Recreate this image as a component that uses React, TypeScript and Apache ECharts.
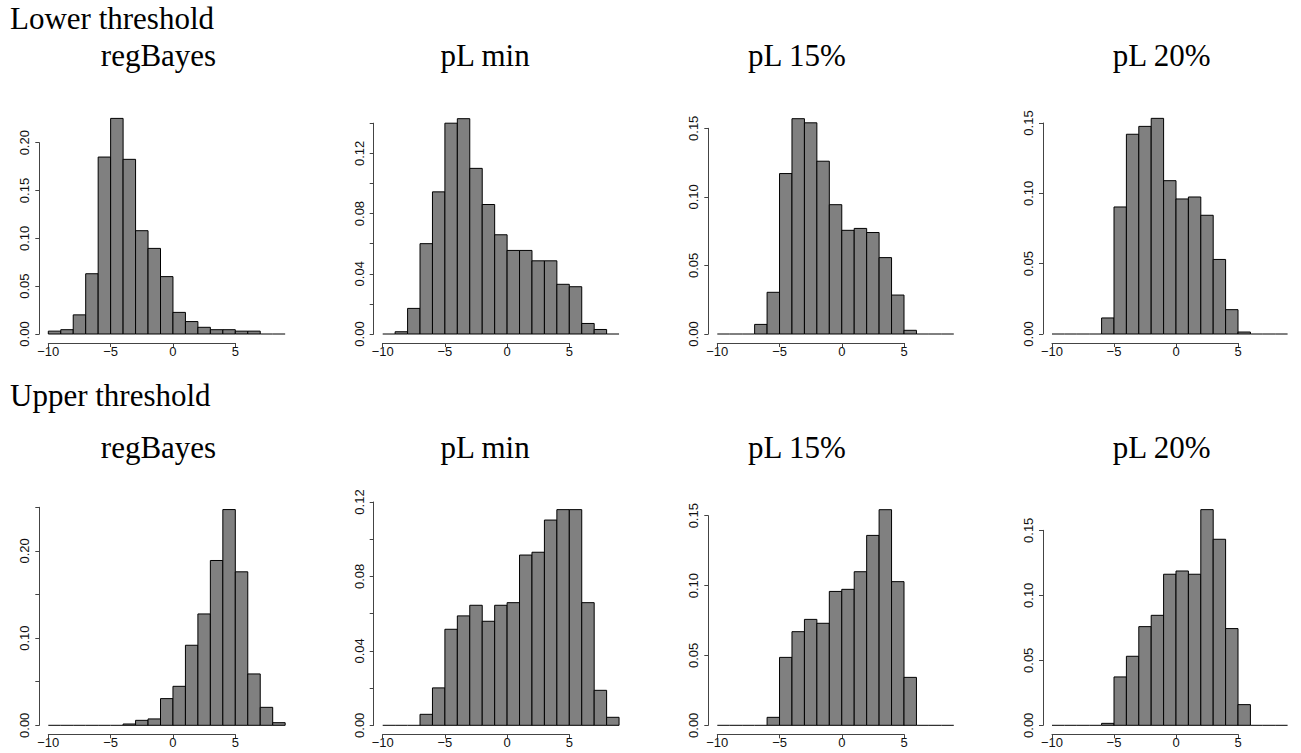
import React, { useEffect, useRef } from 'react';
import * as echarts from 'echarts';

// ---- data ----
const breaks = [-10, -9, -8, -7, -6, -5, -4, -3, -2, -1, 0, 1, 2, 3, 4, 5, 6, 7, 8, 9];

const lowerRegBayes = [0.003, 0.0045, 0.02, 0.063, 0.185, 0.2254, 0.1826, 0.108, 0.0895, 0.06, 0.0226, 0.013, 0.007, 0.0045, 0.0045, 0.003, 0.003, 0, 0];
const lowerPLmin = [0, 0.0015, 0.017, 0.06, 0.0944, 0.14, 0.143, 0.11, 0.086, 0.0659, 0.0555, 0.0555, 0.0486, 0.0486, 0.033, 0.0314, 0.007, 0.003, 0];
const lowerPL15 = [0, 0, 0, 0.007, 0.0304, 0.117, 0.157, 0.154, 0.126, 0.0943, 0.0756, 0.077, 0.074, 0.0557, 0.0284, 0.0027, 0, 0, 0];
const lowerPL20 = [0, 0, 0, 0, 0.0114, 0.0903, 0.142, 0.1476, 0.1533, 0.109, 0.096, 0.0974, 0.0844, 0.053, 0.0173, 0.0014, 0, 0, 0];

const upperRegBayes = [0, 0, 0, 0, 0, 0, 0.0015, 0.0057, 0.0073, 0.0306, 0.0447, 0.0918, 0.1277, 0.189, 0.2474, 0.176, 0.0589, 0.0206, 0.003];
const upperPLmin = [0, 0, 0, 0.0059, 0.0201, 0.0516, 0.0588, 0.0645, 0.0559, 0.0645, 0.0659, 0.0915, 0.093, 0.1103, 0.1159, 0.1159, 0.0659, 0.0188, 0.0043];
const upperPL15 = [0, 0, 0, 0, 0.0057, 0.0486, 0.067, 0.0758, 0.073, 0.0958, 0.0973, 0.1099, 0.1359, 0.1543, 0.1028, 0.0343, 0, 0, 0];
const upperPL20 = [0, 0, 0, 0, 0.0015, 0.0372, 0.0531, 0.0759, 0.0846, 0.1162, 0.1187, 0.1162, 0.1659, 0.1431, 0.0744, 0.0159, 0, 0, 0];

const rowTitles = ['Lower threshold', 'Upper threshold'];
const panelTitles = ['regBayes', 'pL min', 'pL 15%', 'pL 20%'];

const xTickMin = -10;
const xTickMax = 5;
const xTickStep = 5;

const yTickMax = [
  [0.2, 0.14, 0.15, 0.15],
  [0.25, 0.12, 0.15, 0.15],
];
const yTickStep = [
  [0.05, 0.02, 0.05, 0.05],
  [0.05, 0.02, 0.05, 0.05],
];
const yLabelStep = [
  [0.05, 0.04, 0.05, 0.05],
  [0.1, 0.04, 0.05, 0.05],
];

const densities = [
  [lowerRegBayes, lowerPLmin, lowerPL15, lowerPL20],
  [upperRegBayes, upperPLmin, upperPL15, upperPL20],
];

// ---- layout (pixels) ----
const colLeft = [48.3, 382.7, 717.3, 1052];
const colWidth = [187, 186.6, 186.7, 186];
const rowZeroY = [334, 725.3];
const topTickY = [
  [142.7, 123.2, 128.3, 123],
  [507.3, 502, 515.7, 530.3],
];
const titleX = [158.5, 485, 797, 1161.7];
const titleBaseline = [65.7, 458.3];
const rowTitleX = 10;
const rowTitleBaseline = [29.3, 406];
const titleSize = 31;
const axisOffset = 9;
const labelSize = 13;

const serif = '"Liberation Serif", "Times New Roman", serif';
const sans = '"Liberation Sans", Arial, Helvetica, sans-serif';

function fmtX(v: number) {
  return v < 0 ? '\u2212' + Math.abs(v) : String(v);
}

export default function App() {
  const ref = useRef<HTMLDivElement>(null);

  useEffect(() => {
    document.body.style.margin = '0';
    if (!ref.current) return;
    const chart = echarts.init(ref.current, null, { renderer: 'svg' });

    const grids: any[] = [];
    const xAxes: any[] = [];
    const yAxes: any[] = [];
    const series: any[] = [];
    const graphics: any[] = [];

    for (let r = 0; r < 2; r++) {
      graphics.push({
        type: 'text',
        x: rowTitleX,
        y: rowTitleBaseline[r] - 0.3375 * titleSize,
        style: {
          text: rowTitles[r],
          font: `${titleSize}px ${serif}`,
          fill: '#000',
          textAlign: 'left',
          textVerticalAlign: 'middle',
          verticalAlign: 'middle',
        },
      });
      for (let c = 0; c < 4; c++) {
        const idx = r * 4 + c;
        graphics.push({
          type: 'text',
          x: titleX[c],
          y: titleBaseline[r] - 0.3375 * titleSize,
          style: {
            text: panelTitles[c],
            font: `${titleSize}px ${serif}`,
            fill: '#000',
            textAlign: 'center',
            textVerticalAlign: 'middle',
            verticalAlign: 'middle',
          },
        });
        grids.push({
          left: colLeft[c],
          width: colWidth[c],
          top: topTickY[r][c],
          height: rowZeroY[r] - topTickY[r][c],
          containLabel: false,
          outerBoundsMode: 'none',
        });
        const lStep = yLabelStep[r][c];
        xAxes.push({
          type: 'value',
          gridIndex: idx,
          min: xTickMin,
          max: xTickMax,
          interval: xTickStep,
          offset: axisOffset,
          axisLine: { show: true, onZero: false, lineStyle: { color: '#444', width: 1 } },
          axisTick: { show: true, length: 4, lineStyle: { color: '#444', width: 1 } },
          axisLabel: {
            show: true,
            margin: 2,
            fontFamily: sans,
            fontSize: labelSize,
            color: '#111',
            formatter: (v: number) => fmtX(v),
          },
          splitLine: { show: false },
        });
        yAxes.push({
          type: 'value',
          gridIndex: idx,
          min: 0,
          max: yTickMax[r][c],
          interval: yTickStep[r][c],
          offset: axisOffset,
          axisLine: { show: true, onZero: false, lineStyle: { color: '#444', width: 1 } },
          axisTick: { show: true, length: 4, lineStyle: { color: '#444', width: 1 } },
          axisLabel: {
            show: true,
            rotate: 90,
            margin: 8,
            fontFamily: sans,
            fontSize: labelSize,
            color: '#111',
            formatter: (v: number) => {
              const k = v / lStep;
              return Math.abs(k - Math.round(k)) < 1e-6 ? v.toFixed(2) : '';
            },
          },
          splitLine: { show: false },
        });
        const dens = densities[r][c];
        series.push({
          type: 'custom',
          xAxisIndex: idx,
          yAxisIndex: idx,
          clip: false,
          encode: { x: [0, 1], y: 2 },
          data: dens.map((d, i) => [breaks[i], breaks[i + 1], d]),
          renderItem: (params: any, api: any) => {
            const x0 = api.value(0);
            const x1 = api.value(1);
            const h = api.value(2);
            const p0 = api.coord([x0, 0]);
            const p1 = api.coord([x1, h]);
            if (!(h > 0)) {
              return {
                type: 'line',
                shape: { x1: p0[0], y1: p0[1], x2: p1[0], y2: p0[1] },
                style: { stroke: '#000', lineWidth: 1 },
              };
            }
            return {
              type: 'rect',
              shape: { x: p0[0], y: p1[1], width: p1[0] - p0[0], height: p0[1] - p1[1] },
              style: { fill: '#808080', stroke: '#000', lineWidth: 1 },
            };
          },
        });
      }
    }

    chart.setOption({
      animation: false,
      backgroundColor: '#fff',
      grid: grids,
      xAxis: xAxes,
      yAxis: yAxes,
      series,
      graphic: graphics,
    });

    return () => chart.dispose();
  }, []);

  return <div ref={ref} style={{ width: 1301, height: 753 }} />;
}
